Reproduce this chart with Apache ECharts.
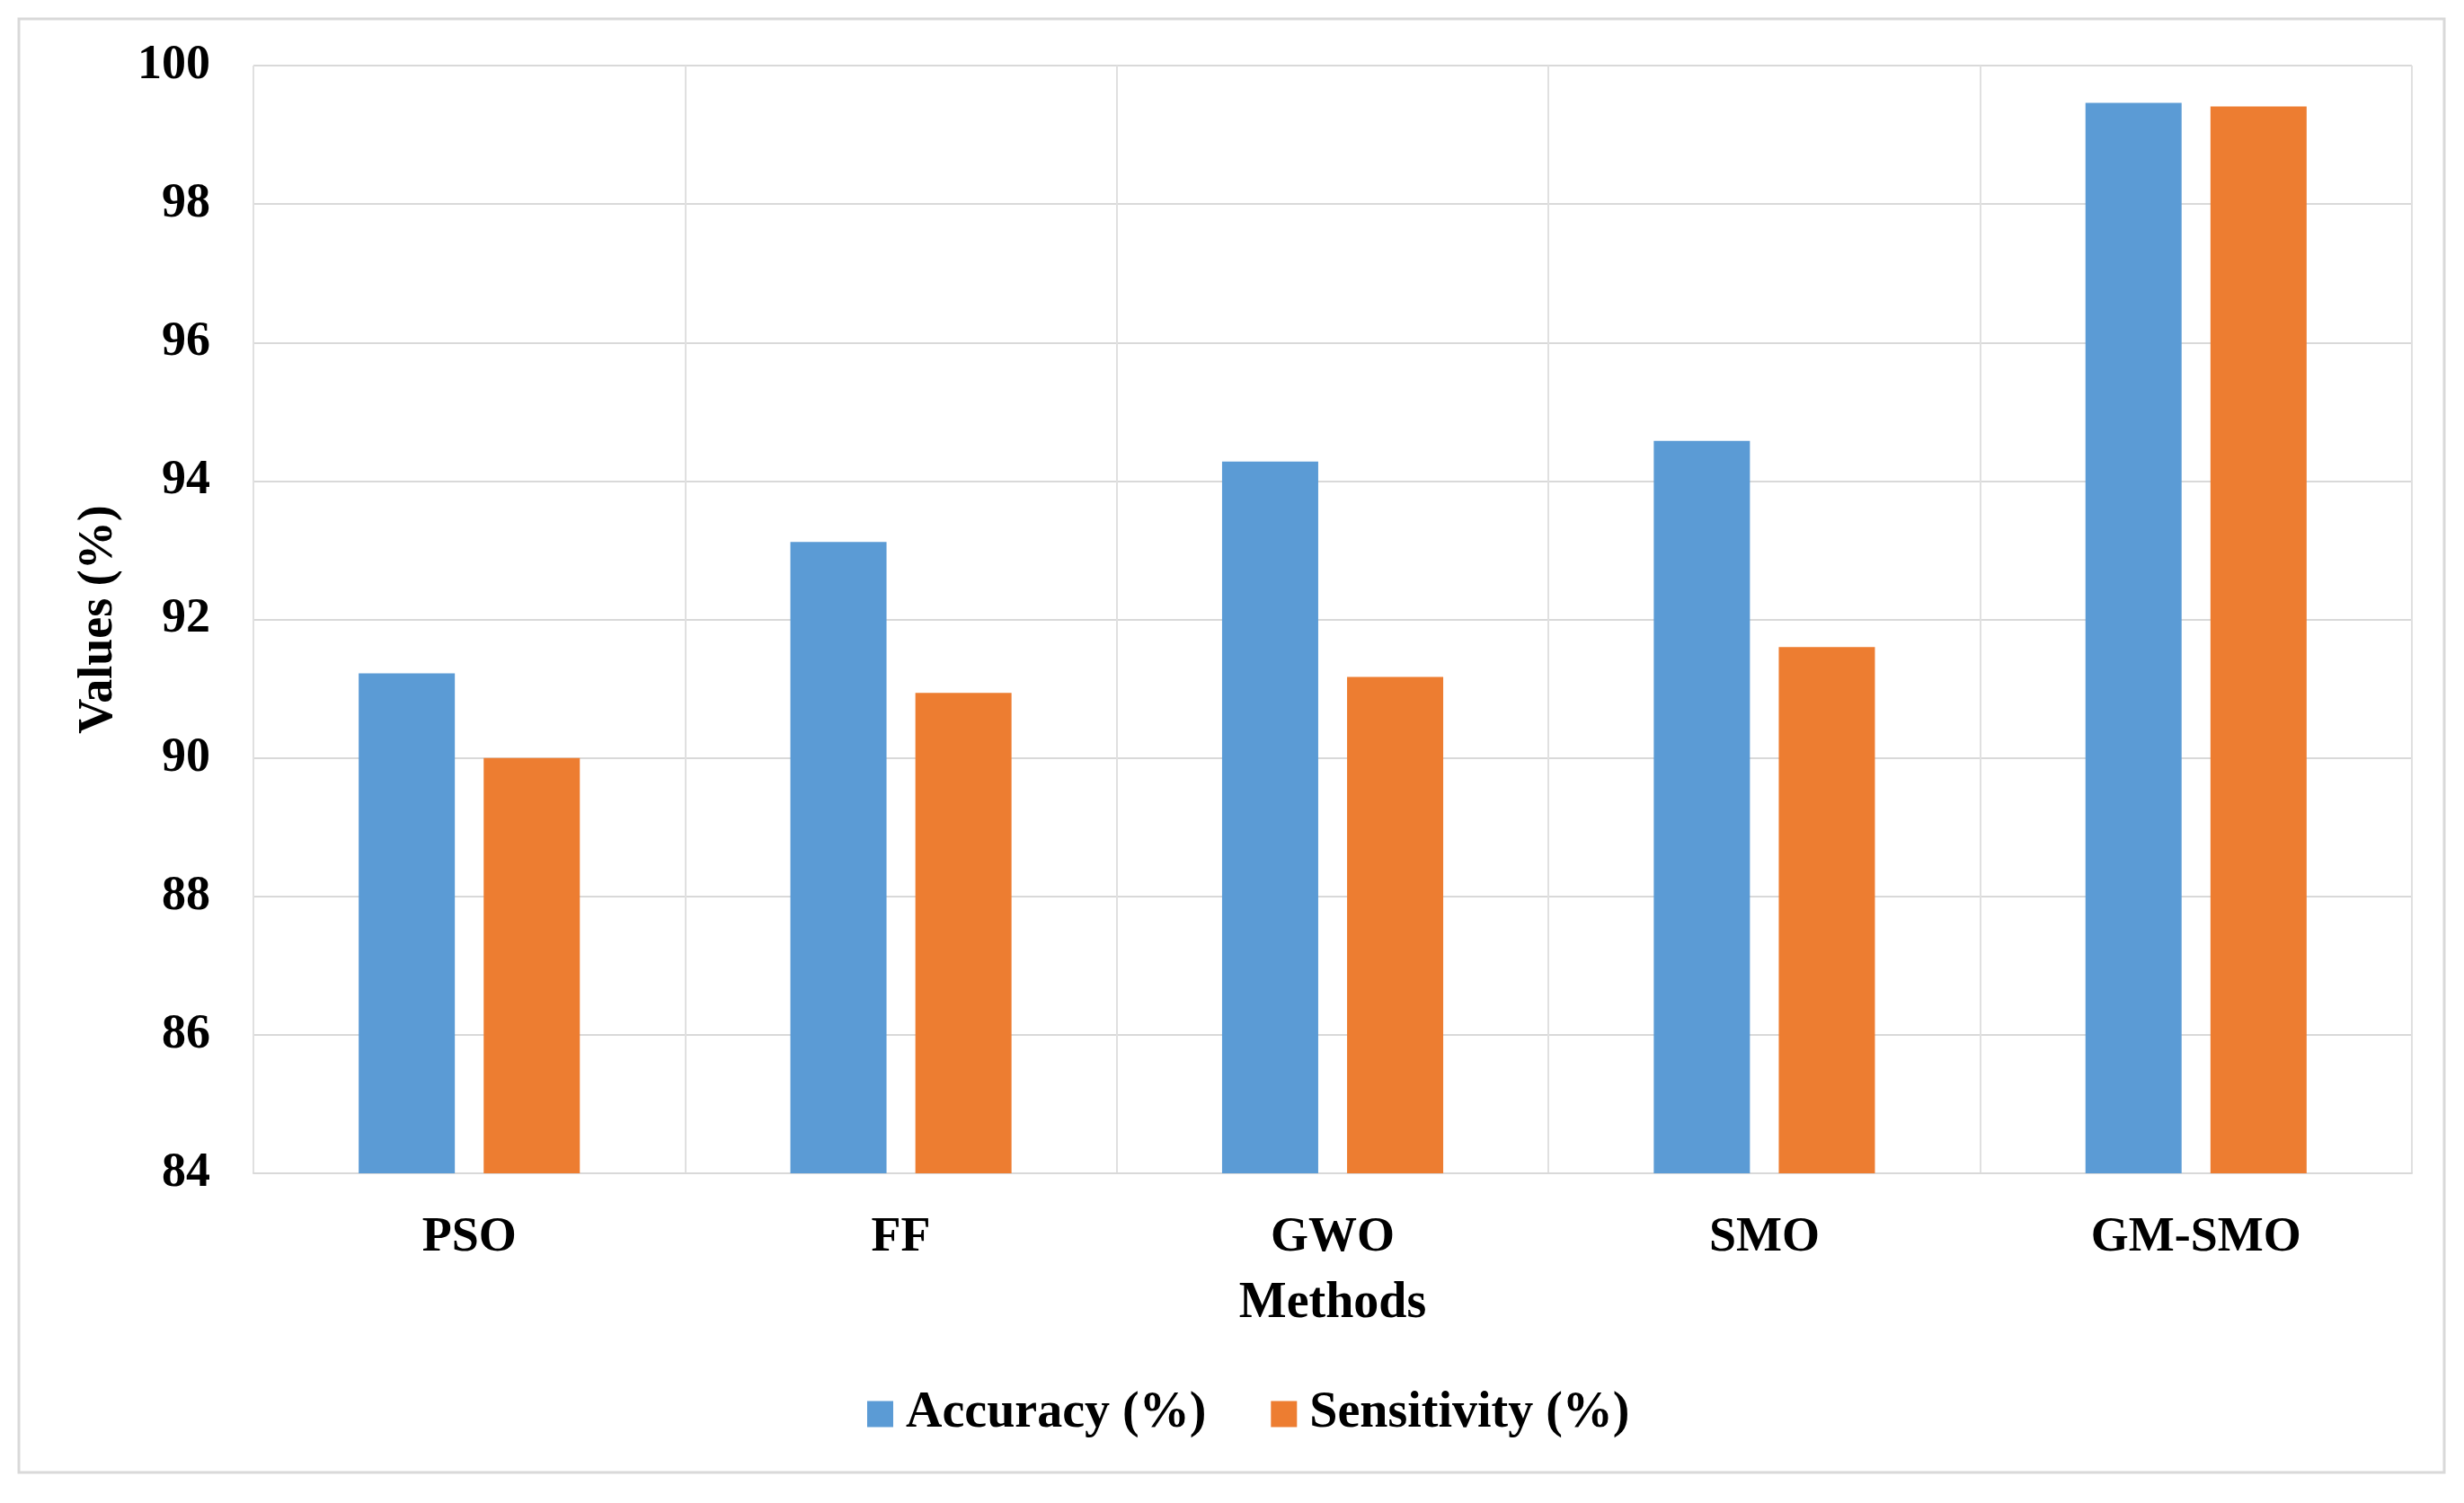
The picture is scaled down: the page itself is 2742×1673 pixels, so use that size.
<!DOCTYPE html>
<html>
<head>
<meta charset="utf-8">
<script src="https://cdn.jsdelivr.net/npm/echarts@6/dist/echarts.min.js"></script>
<style>
html,body{margin:0;padding:0;background:#fff;}
#c{width:2742px;height:1673px;}
</style>
</head>
<body>
<div id="c"></div>
<script>
const categories = ['PSO', 'FF', 'GWO', 'SMO', 'GM-SMO'];
const accuracy = [91.22, 93.12, 94.28, 94.58, 99.46];
const sensitivity = [90.0, 90.94, 91.17, 91.6, 99.41];
const seriesNames = ['Accuracy (%)', 'Sensitivity (%)'];
const yMin = 84, yMax = 100, yStep = 2;

const font = 'Liberation Serif';
const chart = echarts.init(document.getElementById('c'), null, {renderer: 'canvas'});
chart.setOption({
  backgroundColor: '#ffffff',
  animation: false,
  graphic: [{
    type: 'rect',
    shape: {x: 21, y: 21, width: 2699, height: 1618},
    style: {fill: 'none', stroke: '#d9d9d9', lineWidth: 3}
  }],
  grid: {left: 282, right: 58, top: 73, bottom: 367, containLabel: false},
  legend: {
    data: seriesNames,
    left: 960, top: 1541,
    icon: 'rect', itemWidth: 29, itemHeight: 29, itemGap: 72,
    textStyle: {fontFamily: font, fontWeight: 'bold', fontSize: 56, color: '#000', padding: [0, 0, 0, 9]}
  },
  xAxis: {
    type: 'category',
    data: categories,
    name: 'Methods',
    nameLocation: 'middle',
    nameGap: 118,
    nameTextStyle: {fontFamily: font, fontWeight: 'bold', fontSize: 56, color: '#000'},
    axisLine: {show: true, lineStyle: {color: '#d9d9d9', width: 2}},
    axisTick: {show: false},
    axisLabel: {fontFamily: font, fontWeight: 'bold', fontSize: 54, color: '#000', margin: 45},
    splitLine: {show: true, lineStyle: {color: '#e0e0e0', width: 2}}
  },
  yAxis: {
    type: 'value',
    min: yMin, max: yMax, interval: yStep,
    name: 'Values (%)',
    nameLocation: 'middle',
    nameGap: 145,
    nameRotate: 90,
    nameTextStyle: {fontFamily: font, fontWeight: 'bold', fontSize: 54, color: '#000'},
    axisLine: {show: false},
    axisTick: {show: false},
    axisLabel: {fontFamily: font, fontWeight: 'bold', fontSize: 54, color: '#000', margin: 48},
    splitLine: {show: true, lineStyle: {color: '#d9d9d9', width: 2}}
  },
  series: [
    {name: seriesNames[0], type: 'bar', data: accuracy, barWidth: 107, barGap: '30%',
     itemStyle: {color: '#5B9BD5'}},
    {name: seriesNames[1], type: 'bar', data: sensitivity, barWidth: 107, barGap: '30%',
     itemStyle: {color: '#ED7D31'}}
  ]
});
</script>
</body>
</html>
